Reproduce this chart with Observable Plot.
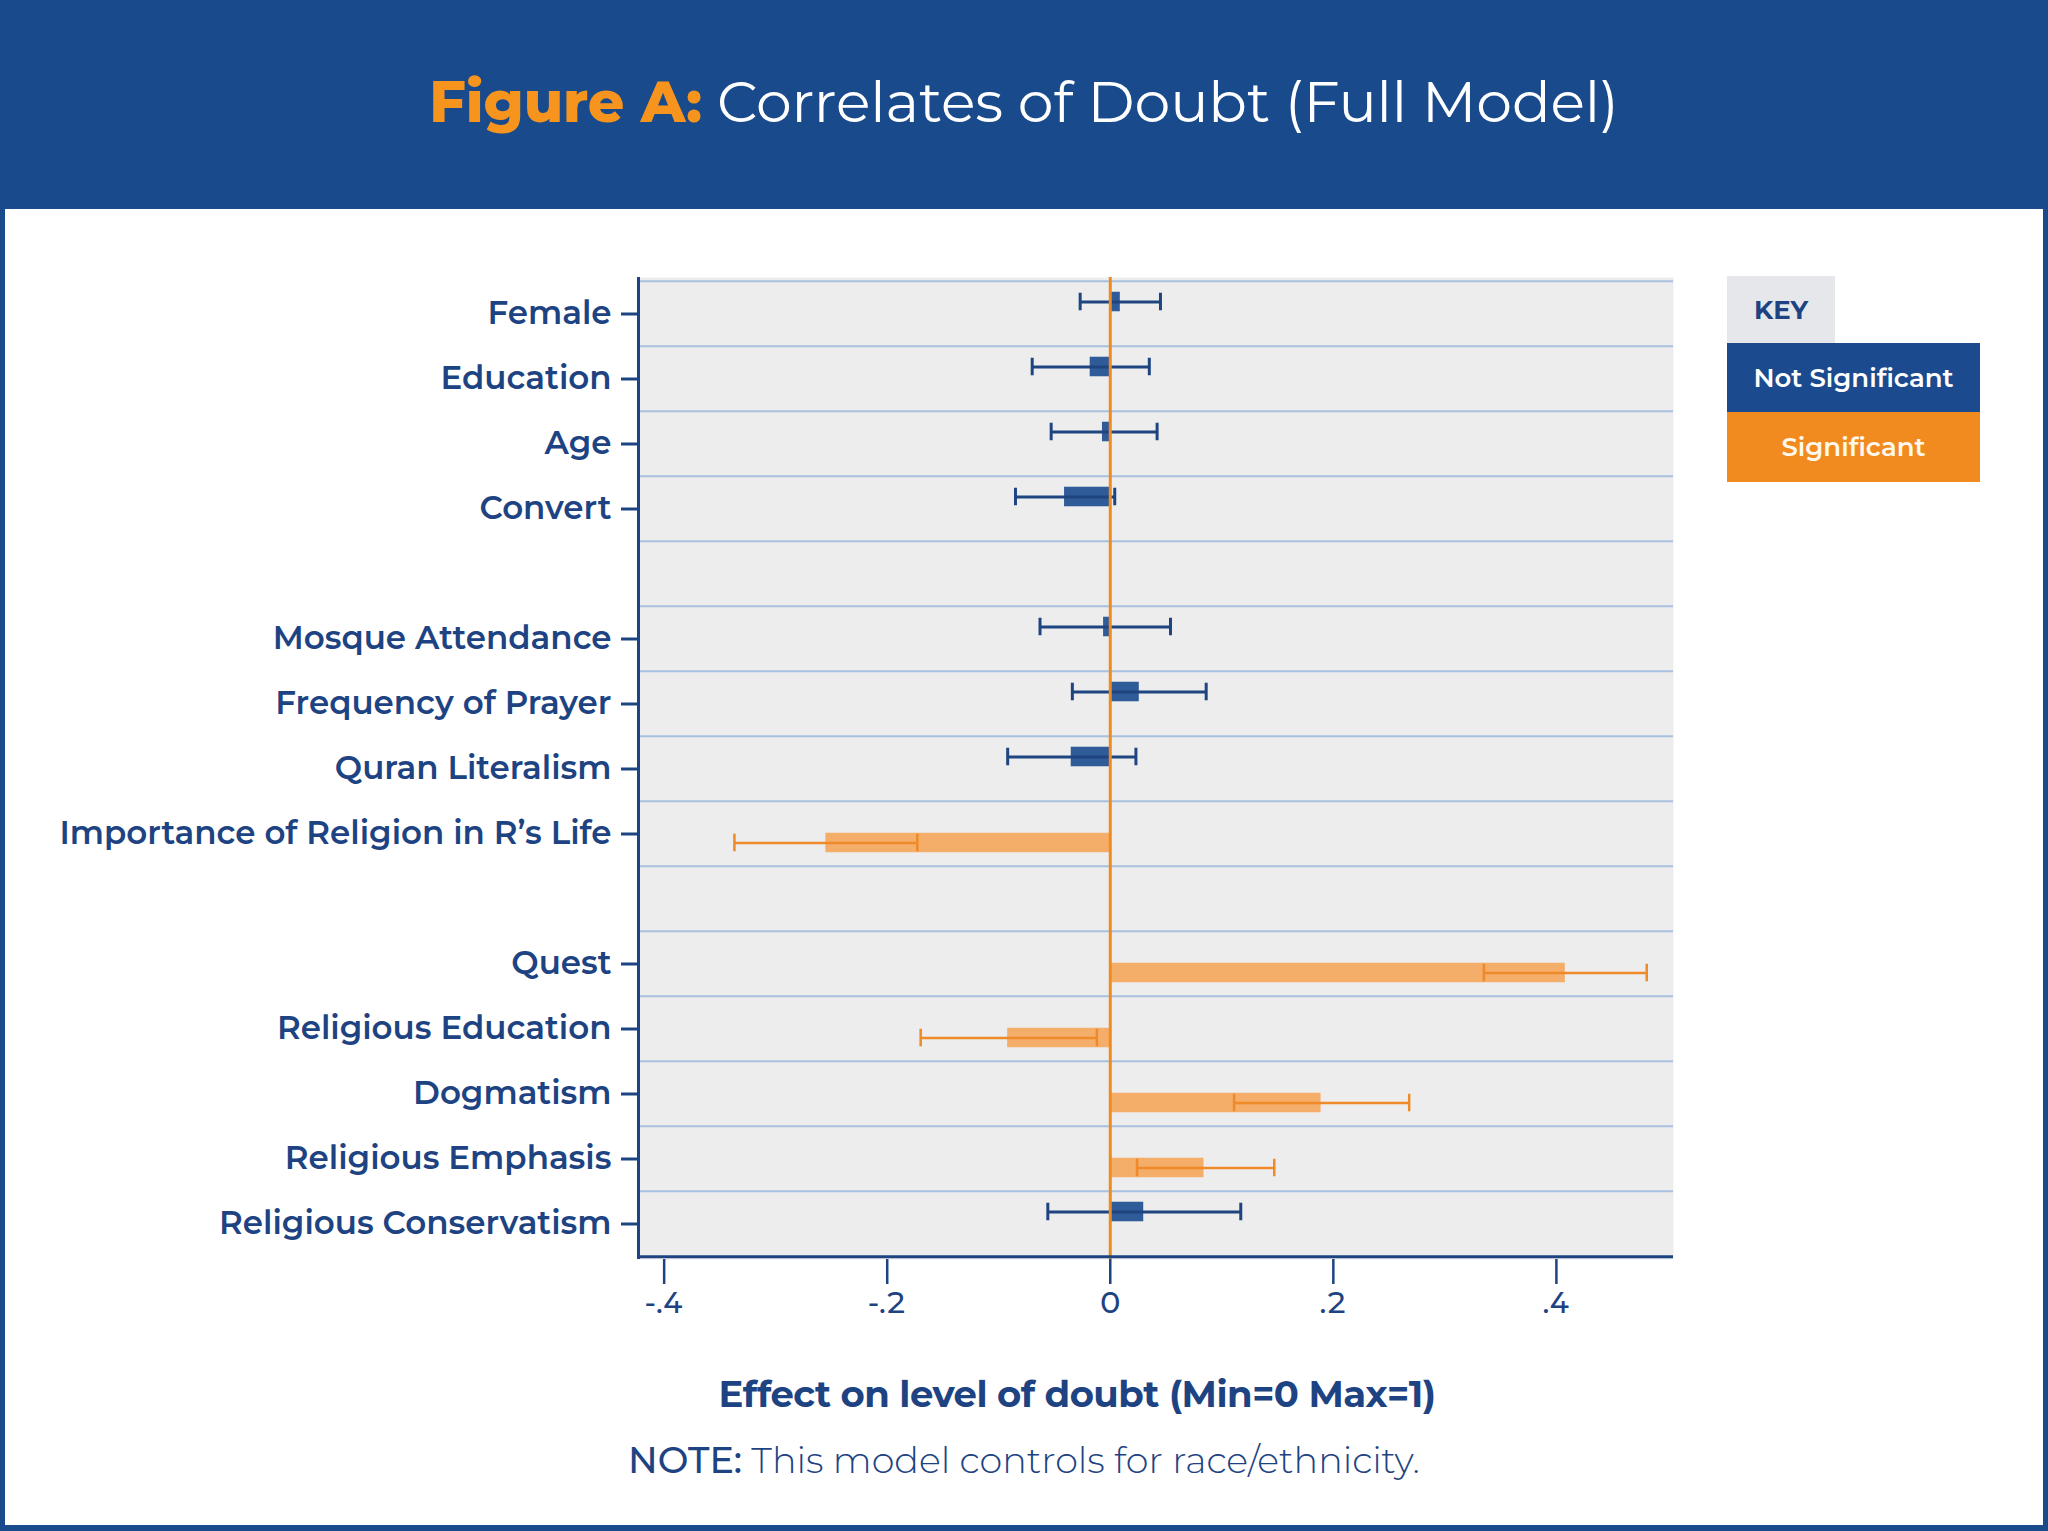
<!DOCTYPE html>
<html>
<head>
<meta charset="utf-8">
<script src="https://cdn.jsdelivr.net/npm/d3@7"></script>
<script src="https://cdn.jsdelivr.net/npm/@observablehq/plot@0.6"></script>
<style>
  html, body { margin: 0; padding: 0; background: #ffffff; }
  #page { position: relative; width: 2048px; height: 1531px; background: #184a8c; overflow: hidden;
          font-family: Montserrat, Inter, "Open Sans", sans-serif; }
  #header { position: absolute; left: 0; top: 0; width: 2048px; height: 209px; }
  #title { position: absolute; left: 0; width: 2048px; top: 70px; text-align: center; font-size: 57px; line-height: 64px; color: #ffffff; font-weight: 400; letter-spacing: -0.1px; }
  #title b { color: #f7941d; font-weight: 800; }
  #panel { position: absolute; left: 5px; top: 209px; width: 2038px; height: 1316px; background: #ffffff; }
  #chart { position: absolute; left: 0; top: 209px; }
  .key { position: absolute; box-sizing: border-box; display: flex; align-items: center; justify-content: center; font-weight: 600; font-size: 26px; }
  #xtitle { position: absolute; left: 577px; width: 1000px; top: 1374px; text-align: center; font-size: 37px; line-height: 40px; font-weight: 700; color: #1e4382; letter-spacing: -0.5px; }
  #note { position: absolute; left: 524px; width: 1000px; top: 1440px; text-align: center; font-size: 36.5px; line-height: 40px; font-weight: 300; color: #1e4382; }
  #note b { font-weight: 500; }
</style>
</head>
<body>
<div id="page">
  <div id="header"><div id="title"><b>Figure A:</b> Correlates of Doubt (Full Model)</div></div>
  <div id="panel"></div>
  <div id="chart"></div>
  <div class="key" style="left:1727px;top:276px;width:108px;height:67px;background:#e6e7ea;color:#1e4382;font-weight:700;">KEY</div>
  <div class="key" style="left:1727px;top:343px;width:253px;height:69px;background:#1b4a8f;color:#ffffff;">Not Significant</div>
  <div class="key" style="left:1727px;top:412px;width:253px;height:70px;background:#f28b1f;color:#fff8ec;">Significant</div>
  <div id="xtitle">Effect on level of doubt (Min=0 Max=1)</div>
  <div id="note"><b>NOTE:</b> This model controls for race/ethnicity.</div>
</div>
<script>
// ---- data ----
const rowOrder = ["Female", "Education", "Age", "Convert", "gap1",
  "Mosque Attendance", "Frequency of Prayer", "Quran Literalism", "Importance of Religion in R’s Life", "gap2",
  "Quest", "Religious Education", "Dogmatism", "Religious Emphasis", "Religious Conservatism"];
const variables = ["Female", "Education", "Age", "Convert",
  "Mosque Attendance", "Frequency of Prayer", "Quran Literalism", "Importance of Religion in R’s Life",
  "Quest", "Religious Education", "Dogmatism", "Religious Emphasis", "Religious Conservatism"];
const estimates = [0.009, -0.018, -0.007, -0.041, -0.006, 0.026, -0.035, -0.255, 0.408, -0.092, 0.189, 0.084, 0.030];
const lows      = [-0.027, -0.070, -0.053, -0.085, -0.063, -0.034, -0.092, -0.337, 0.335, -0.170, 0.111, 0.024, -0.056];
const highs     = [0.045, 0.035, 0.042, 0.004, 0.054, 0.086, 0.023, -0.173, 0.481, -0.012, 0.268, 0.147, 0.117];
const significant = [false, false, false, false, false, false, false, true, true, true, true, true, false];
const xTicks = [-0.4, -0.2, 0, 0.2, 0.4];
const xDomain = [-0.423, 0.505];

const data = variables.map((v, i) => ({variable: v, est: estimates[i], lo: lows[i], hi: highs[i], sig: significant[i]}));
const ns = data.filter(d => !d.sig);
const sg = data.filter(d => d.sig);

const W = 2048, H = 1110, mL = 638, mR = 375, mT = 68, mB = 60;
const bw = (H - mT - mB) / rowOrder.length;
const barInset = (bw - 20) / 2;
const capInset = (bw - 18) / 2;
const nsShift = -12;  // series offsets within a row, as in the original
const sgShift = 9;
const navy = "#1e4382";
const blueBar = "#2f5b98";
const blueErr = "#1f4580";
const orangeBar = "#f5ad6a";
const orangeErr = "#ee8a28";
const zeroCol = "#f08c1f";
const gridCol = "#a9c0de";
const FONT = 'Montserrat, Inter, "Open Sans", sans-serif';

const fmt = d => d === 0 ? "0" : (d < 0 ? "-" : "") + Math.abs(d).toFixed(1).replace(/^0/, "");

const chart = Plot.plot({
  width: W, height: H,
  marginLeft: mL, marginRight: mR, marginTop: mT, marginBottom: mB,
  style: {fontFamily: FONT, color: navy, background: "transparent", overflow: "visible"},
  x: {domain: xDomain},
  y: {type: "band", domain: rowOrder, padding: 0},
  marks: [
    Plot.frame({fill: "#ededed", stroke: null}),
    Plot.ruleY(rowOrder, {y: d => d, dy: -bw / 2, stroke: gridCol, strokeWidth: 2}),
    Plot.barX(ns, {y: "variable", x1: 0, x2: "est", fill: blueBar, dy: nsShift, insetTop: barInset, insetBottom: barInset}),
    Plot.barX(sg, {y: "variable", x1: 0, x2: "est", fill: orangeBar, dy: sgShift, insetTop: barInset, insetBottom: barInset}),
    Plot.ruleY(ns, {y: "variable", x1: "lo", x2: "hi", stroke: blueErr, strokeWidth: 3, dy: nsShift}),
    Plot.tickX(ns, {y: "variable", x: "lo", stroke: blueErr, strokeWidth: 3, dy: nsShift, insetTop: capInset, insetBottom: capInset}),
    Plot.tickX(ns, {y: "variable", x: "hi", stroke: blueErr, strokeWidth: 3, dy: nsShift, insetTop: capInset, insetBottom: capInset}),
    Plot.ruleY(sg, {y: "variable", x1: "lo", x2: "hi", stroke: orangeErr, strokeWidth: 2.5, dy: sgShift}),
    Plot.tickX(sg, {y: "variable", x: "lo", stroke: orangeErr, strokeWidth: 2.5, dy: sgShift, insetTop: capInset, insetBottom: capInset}),
    Plot.tickX(sg, {y: "variable", x: "hi", stroke: orangeErr, strokeWidth: 2.5, dy: sgShift, insetTop: capInset, insetBottom: capInset}),
    Plot.ruleX([0], {stroke: zeroCol, strokeWidth: 3}),
    Plot.ruleX([xDomain[0]], {stroke: navy, strokeWidth: 3}),
    Plot.ruleY([rowOrder[rowOrder.length - 1]], {dy: bw / 2, stroke: navy, strokeWidth: 3}),
    Plot.axisX({ticks: xTicks, tickFormat: fmt, tickSize: 25, tickPadding: 7, fontSize: 30, fontWeight: 500, label: null, stroke: navy, strokeWidth: 2.5}),
    Plot.axisY({ticks: variables, tickSize: 17, tickPadding: 10, fontSize: 32.5, fontWeight: 600, label: null, stroke: navy, strokeWidth: 3})
  ]
});
document.getElementById("chart").appendChild(chart);
</script>
</body>
</html>
